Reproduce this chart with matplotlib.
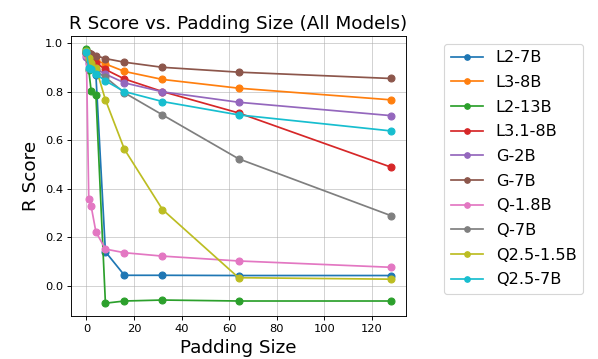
import matplotlib
matplotlib.use("Agg")
import matplotlib.pyplot as plt

padding = [0, 1, 2, 4, 8, 16, 32, 64, 128]

models = ["L2-7B", "L3-8B", "L2-13B", "L3.1-8B", "G-2B", "G-7B",
          "Q-1.8B", "Q-7B", "Q2.5-1.5B", "Q2.5-7B"]

l2_7b = [0.97, 0.93, 0.90, 0.87, 0.141, 0.044, 0.044, 0.043, 0.043]
l3_8b = [0.96, 0.95, 0.94, 0.93, 0.915, 0.884, 0.851, 0.815, 0.767]
l2_13b = [0.978, 0.89, 0.804, 0.788, -0.071, -0.062, -0.058, -0.062, -0.062]
l31_8b = [0.96, 0.95, 0.935, 0.92, 0.892, 0.853, 0.801, 0.713, 0.49]
g_2b = [0.945, 0.92, 0.905, 0.895, 0.873, 0.837, 0.80, 0.757, 0.702]
g_7b = [0.965, 0.96, 0.955, 0.949, 0.937, 0.922, 0.901, 0.881, 0.855]
q_18b = [0.95, 0.36, 0.329, 0.223, 0.152, 0.137, 0.123, 0.103, 0.077]
q_7b = [0.96, 0.93, 0.91, 0.885, 0.86, 0.796, 0.705, 0.524, 0.29]
q25_15b = [0.97, 0.94, 0.92, 0.90, 0.767, 0.563, 0.315, 0.034, 0.028]
q25_7b = [0.966, 0.90, 0.893, 0.873, 0.845, 0.801, 0.760, 0.705, 0.639]

series = [l2_7b, l3_8b, l2_13b, l31_8b, g_2b, g_7b, q_18b, q_7b, q25_15b, q25_7b]

DPI = 72 * 1.15
fig = plt.figure(figsize=(598 / DPI, 359 / DPI), dpi=DPI)
ax = fig.add_axes([0.119, 0.120, 0.560, 0.780])

for name, vals in zip(models, series):
    ax.plot(padding, vals, marker="o", markersize=6, linewidth=1.5, label=name)

ax.set_title("R Score vs. Padding Size (All Models)", fontsize=16)
ax.set_xlabel("Padding Size", fontsize=16)
ax.set_ylabel("R Score", fontsize=16)
ax.tick_params(labelsize=10)
ax.grid(True, alpha=0.6)
ax.legend(loc="upper left", bbox_to_anchor=(1.09, 1.0), fontsize=14,
          labelspacing=0.6, markerscale=0.8)

fig.savefig("out.png", dpi=DPI)
